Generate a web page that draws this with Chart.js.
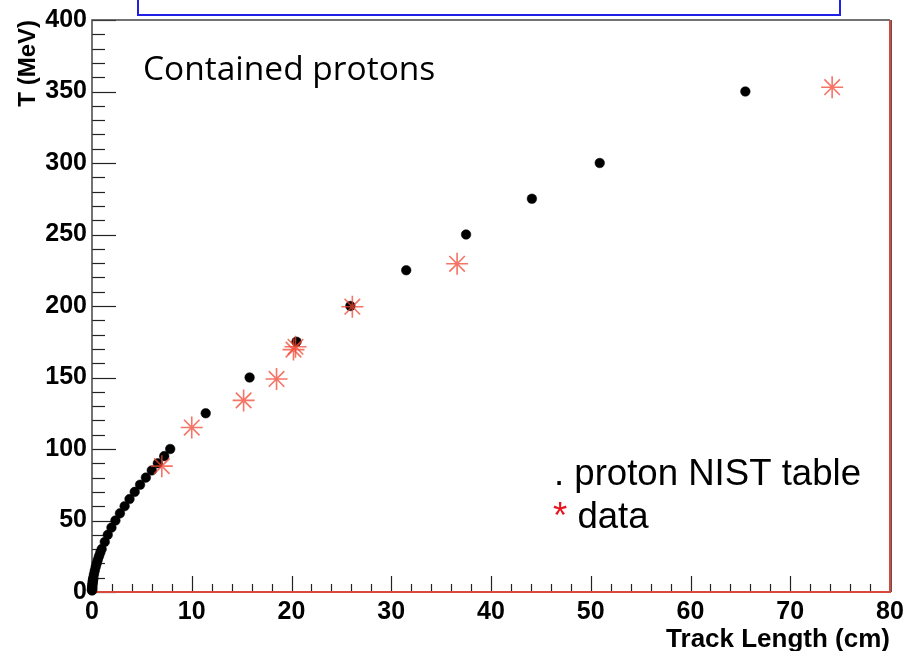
<!DOCTYPE html>
<html>
<head>
<meta charset="utf-8">
<script src="https://cdn.jsdelivr.net/npm/chart.js@4"></script>
<style>
  html, body { margin: 0; padding: 0; background: #fff; }
  #wrap { width: 910px; height: 651px; }
</style>
</head>
<body>
<div id="wrap"><canvas id="rangeChart" width="910" height="651"></canvas></div>
<script>
// NIST table: kinetic energy (MeV) vs CSDA range (cm)
const nistEnergy = [1, 1.5, 2, 2.5, 3, 4, 5, 6, 7, 8, 9, 10, 12.5, 15, 17.5, 20, 22.5, 25, 27.5, 30,
  35, 40, 45, 50, 55, 60, 65, 70, 75, 80, 85, 90, 95, 100,
  125, 150, 175, 200, 225, 250, 275, 300, 350];
const nistRange = [0.003, 0.006, 0.009, 0.013, 0.018, 0.028, 0.041, 0.056, 0.073, 0.092, 0.113, 0.136, 0.2, 0.28, 0.37, 0.47, 0.58, 0.7, 0.83, 0.97,
  1.28, 1.58, 1.95, 2.35, 2.8, 3.27, 3.76, 4.28, 4.82, 5.4, 5.99, 6.6, 7.24, 7.84,
  11.4, 15.8, 20.5, 25.9, 31.5, 37.5, 44.1, 50.9, 65.5];

// measured contained protons
const dataRange = [7.0, 10.0, 15.2, 18.5, 20.2, 20.4, 26.1, 36.6, 74.2];
const dataEnergy = [88, 115, 134, 149, 169.5, 171.5, 199.5, 229.5, 353];

// axis ticks
const xTickValues = [0, 10, 20, 30, 40, 50, 60, 70, 80];
const yTickValues = [0, 50, 100, 150, 200, 250, 300, 350, 400];
const xMinorStep = 2;
const yMinorStep = 10;

const axisFont = { family: "'Liberation Sans', Arial, sans-serif", size: 25, weight: "bold" };

function toPoints(xs, ys) {
  return xs.map((x, i) => ({ x: x, y: ys[i] }));
}

// frame, ROOT style ticks pointing inside
const frameAndTicks = {
  id: "frameAndTicks",
  beforeDatasetsDraw(chart) {
    const { ctx, chartArea: a, scales } = chart;
    const xs = scales.x, ys = scales.y;
    ctx.save();

    ctx.lineWidth = 1.2;
    ctx.strokeStyle = "#222";
    for (let v = 0; v <= 80; v += xMinorStep) {
      const px = Math.round(xs.getPixelForValue(v)) + 0.5;
      const len = v % 10 === 0 ? 16 : 8;
      ctx.beginPath();
      ctx.moveTo(px, a.bottom);
      ctx.lineTo(px, a.bottom - len);
      ctx.stroke();
    }
    for (let v = 0; v <= 400; v += yMinorStep) {
      const py = Math.round(ys.getPixelForValue(v)) + 0.5;
      const len = v % 50 === 0 ? 24 : 13;
      ctx.beginPath();
      ctx.moveTo(a.left, py);
      ctx.lineTo(a.left + len, py);
      ctx.stroke();
    }

    // top and left
    ctx.strokeStyle = "#444";
    ctx.lineWidth = 1.5;
    ctx.beginPath();
    ctx.moveTo(a.left, a.bottom);
    ctx.lineTo(a.left, a.top);
    ctx.lineTo(a.right, a.top);
    ctx.stroke();

    // bottom and right in red
    ctx.strokeStyle = "#d9483a";
    ctx.lineWidth = 2;
    ctx.beginPath();
    ctx.moveTo(a.left, a.bottom);
    ctx.lineTo(a.right, a.bottom);
    ctx.lineTo(a.right, a.top);
    ctx.stroke();
    ctx.strokeStyle = "#555";
    ctx.lineWidth = 1;
    ctx.beginPath();
    ctx.moveTo(a.right + 1.5, a.top);
    ctx.lineTo(a.right + 1.5, a.bottom);
    ctx.stroke();

    ctx.restore();
  },
  afterDraw(chart) {
    const ctx = chart.ctx;
    ctx.save();

    // blue box cut at the top
    ctx.strokeStyle = "#1f1fe6";
    ctx.lineWidth = 2;
    ctx.strokeRect(138, -10, 702, 25);

    ctx.fillStyle = "#000";
    ctx.textBaseline = "alphabetic";
    ctx.textAlign = "left";

    // title text, fitted to the reference width
    let size = 34;
    ctx.font = size + "px 'Open Sans', sans-serif";
    size = size * 292 / ctx.measureText("Contained protons").width;
    ctx.font = size.toFixed(1) + "px 'Open Sans', sans-serif";
    ctx.fillText("Contained protons", 143, 80);

    // hand made legend
    ctx.font = "36.6px 'Liberation Sans', Arial, sans-serif";
    ctx.fillText(". proton NIST table", 554, 485);
    ctx.fillStyle = "#e8141e";
    ctx.fillText("*", 553, 528);
    const starW = ctx.measureText("* ").width;
    ctx.fillStyle = "#000";
    ctx.fillText("data", 553 + starW, 528);

    ctx.restore();
  },
};

const chart = new Chart(document.getElementById("rangeChart"), {
  type: "scatter",
  data: {
    datasets: [
      {
        label: "proton NIST table",
        data: toPoints(nistRange, nistEnergy),
        pointStyle: "circle",
        pointRadius: 4.8,
        backgroundColor: "#000",
        borderColor: "#000",
        borderWidth: 0.5,
        clip: false,
        order: 2,
      },
      {
        label: "data",
        data: toPoints(dataRange, dataEnergy),
        pointStyle: "star",
        pointRadius: 11,
        borderColor: "rgba(240, 70, 50, 0.75)",
        borderWidth: 1.6,
        clip: false,
        order: 1,
      },
    ],
  },
  options: {
    responsive: false,
    animation: false,
    layout: { padding: { top: 18, right: 20, left: 0, bottom: 0 } },
    plugins: { legend: { display: false }, tooltip: { enabled: false } },
    scales: {
      x: {
        type: "linear",
        min: 0,
        max: 80,
        afterBuildTicks: (s) => { s.ticks = xTickValues.map((v) => ({ value: v })); },
        afterFit: (s) => { s.height = 59; },
        grid: { display: false, drawTicks: false },
        border: { display: false },
        ticks: { font: axisFont, color: "#000", padding: 5, maxRotation: 0, autoSkip: false },
        title: {
          display: true,
          text: "Track Length (cm)",
          align: "end",
          font: { family: "'Liberation Sans', Arial, sans-serif", size: 26, weight: "bold" },
          color: "#000",
          padding: { top: 0, bottom: -4 },
        },
      },
      y: {
        type: "linear",
        min: 0,
        max: 400,
        afterBuildTicks: (s) => { s.ticks = yTickValues.map((v) => ({ value: v })); },
        afterFit: (s) => { s.width = 92; },
        grid: { display: false, drawTicks: false },
        border: { display: false },
        ticks: { font: axisFont, color: "#000", padding: 5, autoSkip: false },
        title: {
          display: true,
          text: "T (MeV)",
          align: "end",
          font: { family: "'Liberation Sans', Arial, sans-serif", size: 24, weight: "bold" },
          color: "#000",
          padding: { top: 14, bottom: 0 },
        },
      },
    },
  },
  plugins: [frameAndTicks],
});
</script>
</body>
</html>
